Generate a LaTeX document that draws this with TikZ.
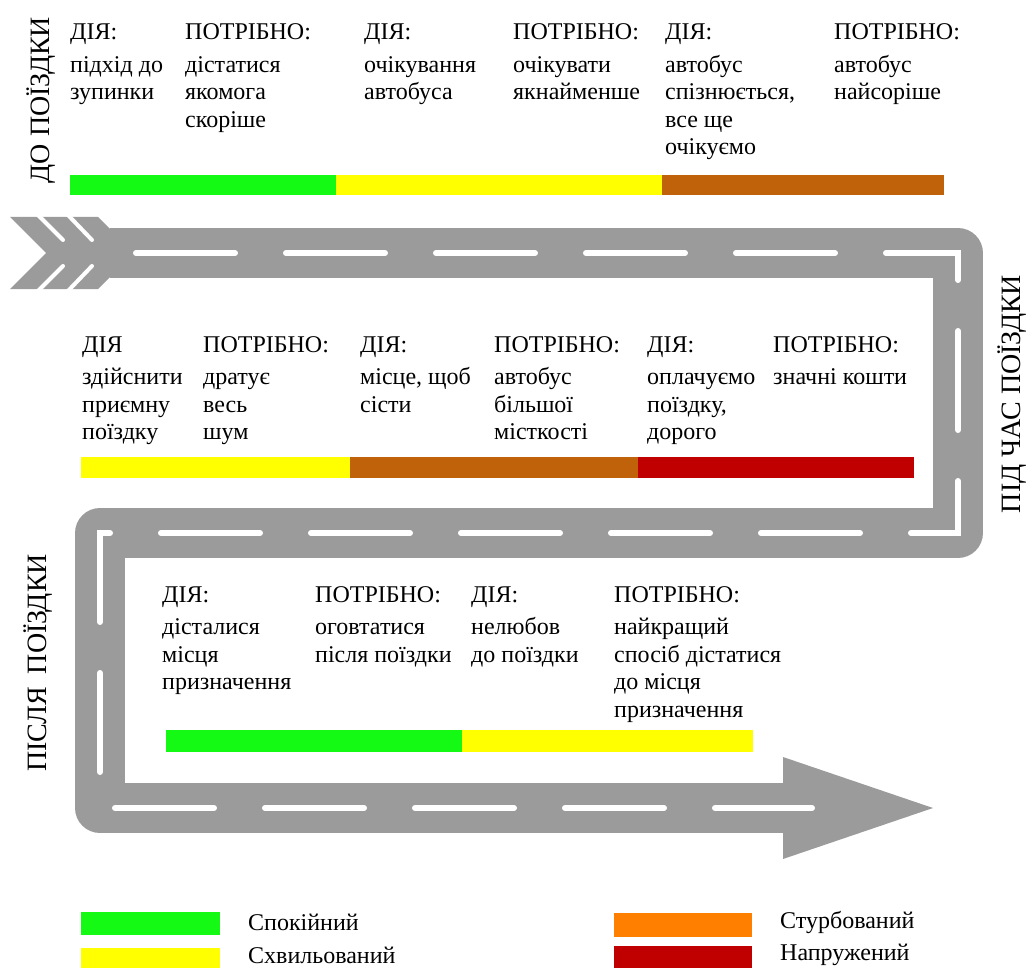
\documentclass[tikz,border=0pt]{standalone}
\usepackage{fontspec}
\setmainfont{Liberation Serif}
\newfontfamily\tnr{Liberation Serif}
\definecolor{roadgray}{RGB}{155,155,155}
\definecolor{calm}{RGB}{20,250,20}
\definecolor{excited}{RGB}{255,255,0}
\definecolor{worried}{RGB}{192,98,10}
\definecolor{orangeleg}{RGB}{255,128,0}
\definecolor{tense}{RGB}{192,0,0}
\newcommand\cellx[1]{\begin{tabular}[t]{@{}l@{}}#1\end{tabular}}
\begin{document}
\begin{tikzpicture}[x=1pt,y=-1pt,
  txt/.style={anchor=base west, inner sep=0pt, font=\tnr\fontsize{24}{27.5}\selectfont},
  side/.style={rotate=90, inner sep=0pt, font=\tnr\fontsize{28}{32}\selectfont},
  legtxt/.style={anchor=west, inner sep=0pt, font=\tnr\fontsize{24}{28}\selectfont},
  road/.style={draw=roadgray, line width=50pt, line join=round},
  lane/.style={draw=white, line width=6pt, line cap=round, line join=miter, dash pattern=on 99pt off 51pt},
  stripe/.style={draw=white, line width=4pt, line cap=round}
]
\useasboundingbox (0,0) rectangle (1030,968);

% ---------- road ----------
\coordinate (r0) at (110,253);
\coordinate (r1) at (958,253);
\coordinate (r2) at (958,533);
\coordinate (r3) at (100,533);
\coordinate (r4) at (100,808);
\coordinate (r5) at (784,808);
\coordinate (l0) at (136,253);
\coordinate (l5) at (812,808);
\path[road] (r0) -- (r1) -- (r2) -- (r3) -- (r4) -- (r5);
\fill[roadgray] (10,217) -- (98,217) -- (134,253) -- (98,289) -- (10,289) -- (46,253) -- cycle;
\fill[roadgray] (783,757) -- (933,808) -- (783,859) -- cycle;
\draw[stripe] (37,214) -- (63,240);
\draw[stripe] (67,214) -- (92,240);
\draw[stripe] (37,292) -- (63,266);
\draw[stripe] (67,292) -- (92,266);
\path[lane] (l0) -- (r1) -- (r2) -- (r3) -- (r4) -- (l5);

% ---------- side labels ----------
\node[side] (s1) at (41,100) {ДО ПОЇЗДКИ};
\node[side] (s2) at (1012,394) {ПІД ЧАС ПОЇЗДКИ};
\node[side] (s3) at (38,663) {ПІСЛЯ\hspace{0.45em}ПОЇЗДКИ};

% ---------- top row ----------
\node[txt] (a1) at (70,40)  {\cellx{ДІЯ:\\[5pt]підхід до\\зупинки}};
\node[txt] (a2) at (185,40) {\cellx{ПОТРІБНО:\\[5pt]дістатися\\якомога\\скоріше}};
\node[txt] (a3) at (364,40) {\cellx{ДІЯ:\\[5pt]очікування\\автобуса}};
\node[txt] (a4) at (513,40) {\cellx{ПОТРІБНО:\\[5pt]очікувати\\якнайменше}};
\node[txt] (a5) at (665,40) {\cellx{ДІЯ:\\[5pt]автобус\\спізнюється,\\все ще\\очікуємо}};
\node[txt] (a6) at (834,40) {\cellx{ПОТРІБНО:\\[5pt]автобус\\найсоріше}};
\fill[calm]    (70,175)  rectangle (336,195);
\fill[excited] (336,175) rectangle (662,195);
\fill[worried] (662,175) rectangle (944,195);

% ---------- middle row ----------
\node[txt] (b1) at (82,352)  {\cellx{ДІЯ\\[5pt]здійснити\\приємну\\поїздку}};
\node[txt] (b2) at (203,352) {\cellx{ПОТРІБНО:\\[5pt]дратує\\весь\\шум}};
\node[txt] (b3) at (360,352) {\cellx{ДІЯ:\\[5pt]місце, щоб\\сісти}};
\node[txt] (b4) at (494,352) {\cellx{ПОТРІБНО:\\[5pt]автобус\\більшої\\місткості}};
\node[txt] (b5) at (647,352) {\cellx{ДІЯ:\\[5pt]оплачуємо\\поїздку,\\дорого}};
\node[txt] (b6) at (773,352) {\cellx{ПОТРІБНО:\\[5pt]значні кошти}};
\fill[excited] (81,457)  rectangle (350,478);
\fill[worried] (350,457) rectangle (638,478);
\fill[tense]   (638,457) rectangle (914,478);

% ---------- bottom row ----------
\node[txt] (c1) at (162,602) {\cellx{ДІЯ:\\[5pt]дісталися\\місця\\призначення}};
\node[txt] (c2) at (315,602) {\cellx{ПОТРІБНО:\\[5pt]оговтатися\\після поїздки}};
\node[txt] (c3) at (471,602) {\cellx{ДІЯ:\\[5pt]нелюбов\\до поїздки}};
\node[txt] (c4) at (614,602) {\cellx{ПОТРІБНО:\\[5pt]найкращий\\спосіб дістатися\\до місця\\призначення}};
\fill[calm]    (166,730) rectangle (462,752);
\fill[excited] (462,730) rectangle (753,752);

% ---------- legend ----------
\fill[calm]      (81,912)  rectangle (220,935);
\fill[excited]   (81,948)  rectangle (220,968);
\fill[orangeleg] (614,913) rectangle (752,937);
\fill[tense]     (614,946) rectangle (752,968);
\node[legtxt] (g1) at (248,922) {Спокійний};
\node[legtxt] (g2) at (248,955) {Схвильований};
\node[legtxt] (g3) at (780,922) {Стурбований};
\node[legtxt] (g4) at (780,955) {Напружений};
\end{tikzpicture}
\end{document}
